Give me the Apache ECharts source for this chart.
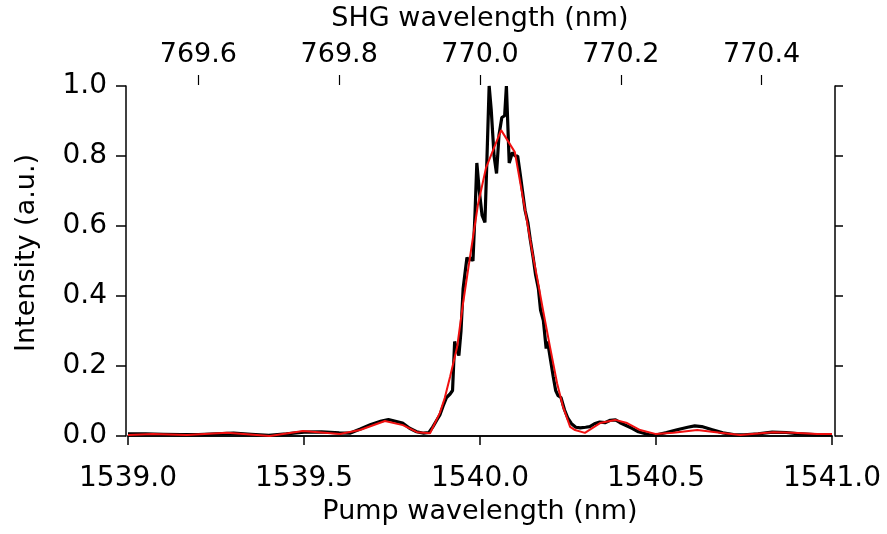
<!DOCTYPE html>
<html>
<head>
<meta charset="utf-8">
<script src="https://cdn.jsdelivr.net/npm/echarts@6/dist/echarts.min.js"></script>
<style>
html,body{margin:0;padding:0;background:#fff;}
#chart{width:887px;height:534px;}
</style>
</head>
<body>
<div id="chart"></div>
<script>
// Measured spectrum (black)
var measX = [1539.000,1539.050,1539.100,1539.150,1539.200,1539.250,1539.300,1539.350,1539.400,1539.450,1539.500,1539.550,1539.600,1539.630,1539.660,1539.690,1539.720,1539.740,1539.760,1539.780,1539.800,1539.820,1539.840,1539.855,1539.866,1539.877,1539.886,1539.895,1539.905,1539.915,1539.922,1539.928,1539.933,1539.940,1539.946,1539.952,1539.958,1539.963,1539.968,1539.974,1539.980,1539.986,1539.991,1539.998,1540.006,1540.014,1540.020,1540.026,1540.032,1540.040,1540.047,1540.054,1540.062,1540.070,1540.075,1540.083,1540.092,1540.100,1540.107,1540.114,1540.122,1540.128,1540.136,1540.143,1540.151,1540.158,1540.166,1540.172,1540.180,1540.188,1540.192,1540.200,1540.208,1540.215,1540.222,1540.230,1540.240,1540.250,1540.260,1540.272,1540.285,1540.300,1540.312,1540.325,1540.340,1540.355,1540.370,1540.385,1540.398,1540.415,1540.432,1540.450,1540.465,1540.480,1540.500,1540.530,1540.560,1540.590,1540.610,1540.630,1540.660,1540.690,1540.720,1540.750,1540.790,1540.830,1540.870,1540.900,1540.950,1541.000];
var measY = [0.006,0.006,0.005,0.004,0.004,0.006,0.008,0.005,0.002,0.006,0.011,0.012,0.009,0.008,0.020,0.033,0.043,0.047,0.042,0.037,0.022,0.012,0.008,0.010,0.026,0.045,0.060,0.085,0.110,0.120,0.130,0.270,0.250,0.230,0.300,0.420,0.470,0.510,0.500,0.510,0.500,0.640,0.780,0.700,0.630,0.610,0.800,1.000,0.930,0.800,0.750,0.860,0.910,0.915,1.000,0.780,0.810,0.800,0.800,0.750,0.690,0.645,0.610,0.560,0.510,0.460,0.420,0.360,0.330,0.250,0.270,0.220,0.170,0.130,0.115,0.110,0.075,0.050,0.035,0.025,0.023,0.025,0.027,0.035,0.040,0.038,0.045,0.046,0.038,0.030,0.022,0.012,0.008,0.004,0.003,0.010,0.018,0.025,0.029,0.027,0.018,0.009,0.004,0.003,0.006,0.011,0.010,0.007,0.004,0.004];
// Fit (red)
var fitX = [1539.000,1539.070,1539.167,1539.281,1539.403,1539.497,1539.602,1539.659,1539.730,1539.781,1539.821,1539.858,1539.886,1539.900,1539.915,1539.935,1539.952,1539.966,1539.994,1540.017,1540.060,1540.099,1540.128,1540.151,1540.162,1540.179,1540.199,1540.219,1540.236,1540.256,1540.270,1540.298,1540.341,1540.384,1540.418,1540.455,1540.498,1540.549,1540.617,1540.682,1540.739,1540.833,1540.890,1540.958,1541.000];
var fitY = [0.003,0.006,0.003,0.009,0.000,0.014,0.006,0.017,0.043,0.031,0.011,0.008,0.066,0.109,0.169,0.254,0.380,0.474,0.660,0.766,0.874,0.811,0.646,0.511,0.454,0.360,0.254,0.151,0.083,0.026,0.017,0.009,0.037,0.046,0.037,0.017,0.006,0.009,0.017,0.009,0.003,0.011,0.009,0.006,0.006];
// Axis ticks
var pumpTicks = [1539.0,1539.5,1540.0,1540.5,1541.0];
var shgTicks = [769.6,769.8,770.0,770.2,770.4];
var yTicks = [0.0,0.2,0.4,0.6,0.8,1.0];

function pairs(xs, ys){ return xs.map(function(x,i){ return [x, ys[i]]; }); }

var FONT = 'DejaVu Sans';
var W = 887, H = 534, L = 128, R = 55, T = 86, B = 98;
var topLineY = 85;
var plotW = W - L - R;
// SHG axis spans pump/2 over the same pixel width
var shgMin = pumpTicks[0] / 2, shgMax = pumpTicks[pumpTicks.length-1] / 2;
var pxPerShg = plotW / (shgMax - shgMin);
var g2Left = L + (shgTicks[0] - shgMin) * pxPerShg;
var g2Right = R + (shgMax - shgTicks[shgTicks.length-1]) * pxPerShg;

var chart = echarts.init(document.getElementById('chart'), null, {renderer:'canvas'});
var axLine = {show:true, lineStyle:{color:'#000', width:1.5}};
chart.setOption({
  animation:false,
  backgroundColor:'#fff',
  grid:[
    {left:L, right:R, top:T, bottom:B, containLabel:false},
    {left:g2Left, right:g2Right, top:0, bottom:H - topLineY, containLabel:false}
  ],
  xAxis:[{
    gridIndex:0, type:'value', position:'bottom', min:pumpTicks[0], max:pumpTicks[pumpTicks.length-1], interval:0.5, offset:3,
    name:'Pump wavelength (nm)', nameLocation:'middle', nameGap:59,
    nameTextStyle:{fontFamily:FONT, fontSize:27, color:'#000'},
    axisLine:axLine, axisTick:{show:true, inside:false, length:9, lineStyle:{color:'#000', width:1.5}},
    axisLabel:{fontFamily:FONT, fontSize:28, color:'#000', margin:26, formatter:function(v){return v.toFixed(1);}},
    splitLine:{show:false}
  },{
    gridIndex:0, type:'value', position:'top', min:shgMin, max:shgMax, offset:1,
    name:'SHG wavelength (nm)', nameLocation:'middle', nameGap:53,
    nameTextStyle:{fontFamily:FONT, fontSize:27, color:'#000'},
    axisLine:axLine, axisTick:{show:false}, axisLabel:{show:false}, splitLine:{show:false}
  },{
    gridIndex:1, type:'value', position:'bottom', min:shgTicks[0], max:shgTicks[shgTicks.length-1], interval:0.2,
    axisLine:{show:false},
    axisTick:{show:true, inside:true, length:10, lineStyle:{color:'#000', width:1.2}},
    axisLabel:{inside:true, fontFamily:FONT, fontSize:27, color:'#000', margin:17, formatter:function(v){return v.toFixed(1);}},
    splitLine:{show:false}
  }],
  yAxis:[{
    gridIndex:0, type:'value', position:'left', min:yTicks[0], max:yTicks[yTicks.length-1], interval:0.2, offset:2,
    name:'Intensity (a.u.)', nameLocation:'middle', nameGap:86, nameRotate:90,
    nameTextStyle:{fontFamily:FONT, fontSize:27, color:'#000', padding:[0,0,0,16]},
    axisLine:axLine, axisTick:{show:true, inside:false, length:10, lineStyle:{color:'#000', width:1.5}},
    axisLabel:{fontFamily:FONT, fontSize:28, color:'#000', margin:19, formatter:function(v){return v.toFixed(1);}},
    splitLine:{show:false}
  },{
    gridIndex:0, type:'value', position:'right', min:yTicks[0], max:yTicks[yTicks.length-1], interval:0.2, offset:3,
    axisLine:axLine, axisTick:{show:true, inside:false, length:8, lineStyle:{color:'#000', width:1.5}},
    axisLabel:{show:false}, splitLine:{show:false}
  },{
    gridIndex:1, type:'value', min:0, max:1, show:false
  }],
  series:[{
    type:'line', xAxisIndex:0, yAxisIndex:0, data:pairs(measX, measY),
    showSymbol:false, symbol:'none', lineStyle:{color:'#000', width:3.2}, z:2
  },{
    type:'line', xAxisIndex:0, yAxisIndex:0, data:pairs(fitX, fitY),
    showSymbol:false, symbol:'none', lineStyle:{color:'#f01010', width:2}, z:3
  }]
});
</script>
</body>
</html>
